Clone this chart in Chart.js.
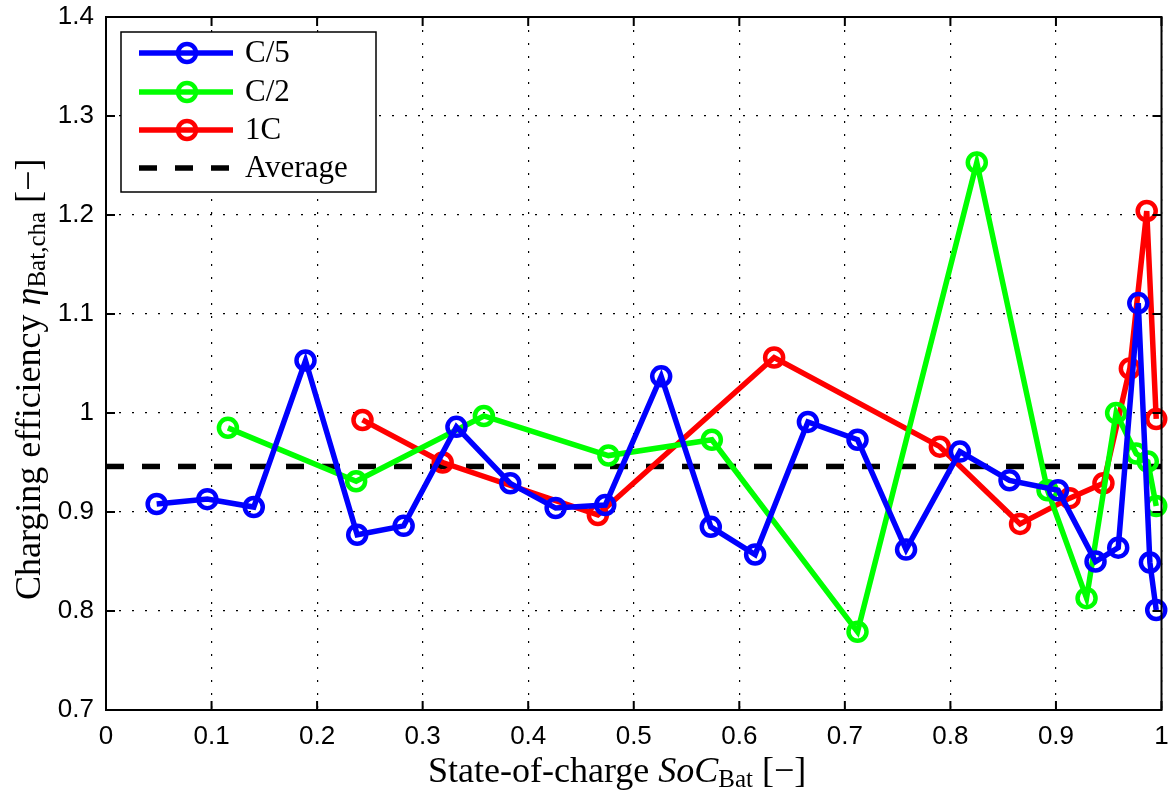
<!DOCTYPE html>
<html>
<head>
<meta charset="utf-8">
<script src="https://cdn.jsdelivr.net/npm/chart.js@4.4.0/dist/chart.umd.min.js"></script>
<style>
html, body { margin: 0; padding: 0; background: #fff; }
#wrap { width: 1175px; height: 794px; position: relative; }
</style>
</head>
<body>
<div id="wrap"><canvas id="chart"></canvas></div>
<script>
// values
const socC5 = [0.048, 0.096, 0.140, 0.189, 0.238, 0.282, 0.332, 0.383, 0.426, 0.473, 0.526, 0.573,
               0.615, 0.665, 0.712, 0.758, 0.809, 0.856, 0.902, 0.9375, 0.959, 0.978, 0.989, 0.995]
const effC5 = [0.908, 0.913, 0.905, 1.053, 0.877, 0.886, 0.986, 0.929, 0.904, 0.907, 1.037, 0.885,
               0.857, 0.991, 0.973, 0.862, 0.961, 0.932, 0.922, 0.850, 0.864, 1.111, 0.849, 0.801]

const socC2 = [0.1155, 0.237, 0.358, 0.476, 0.574, 0.712, 0.825, 0.892, 0.929, 0.957, 0.976, 0.987, 0.995]
const effC2 = [0.985, 0.931, 0.997, 0.957, 0.973, 0.779, 1.253, 0.922, 0.813, 1.000, 0.959, 0.951, 0.906]

const soc1C = [0.243, 0.319, 0.466, 0.633, 0.790, 0.866, 0.913, 0.945, 0.970, 0.986, 0.995]
const eff1C = [0.993, 0.950, 0.897, 1.056, 0.966, 0.888, 0.914, 0.929, 1.045, 1.204, 0.994]

const avgSoc = [0, 1]
const avgEff = [0.946, 0.946]

const seriesNames = ['C/5', 'C/2', '1C', 'Average']

const xTickValues = [0, 0.1, 0.2, 0.3, 0.4, 0.5, 0.6, 0.7, 0.8, 0.9, 1]
const xTickLabels = ['0', '0.1', '0.2', '0.3', '0.4', '0.5', '0.6', '0.7', '0.8', '0.9', '1']
const yTickValues = [0.7, 0.8, 0.9, 1.0, 1.1, 1.2, 1.3, 1.4]
const yTickLabels = ['0.7', '0.8', '0.9', '1', '1.1', '1.2', '1.3', '1.4']

const pts = (xs, ys) => xs.map((x, i) => ({ x: x, y: ys[i] }))

const serif = '"Liberation Serif", "Times New Roman", serif'
const sans = '"Liberation Sans", Arial, sans-serif'

function series(label, xs, ys, color) {
	return {
		label: label,
		data: pts(xs, ys),
		showLine: true,
		borderColor: color,
		borderWidth: 5.5,
		pointRadius: 9,
		pointBorderWidth: 4.5,
		pointBorderColor: color,
		pointBackgroundColor: 'rgba(0,0,0,0)',
		pointHoverRadius: 9,
		clip: false
	}
}

function drawRich(ctx, segs, x, y) {
	let cx = x
	segs.forEach(s => {
		ctx.font = s.f
		ctx.fillText(s.t, cx, y + (s.dy || 0))
		cx += ctx.measureText(s.t).width
	})
}

const decorPlugin = {
	id: 'decor',
	afterDatasetsDraw(chart) {
		const ctx = chart.ctx
		const a = chart.chartArea
		const xs = chart.scales.x, ys = chart.scales.y
		ctx.save()
		ctx.strokeStyle = '#000'
		ctx.lineWidth = 2
		ctx.setLineDash([])
		ctx.strokeRect(a.left, a.top, a.right - a.left, a.bottom - a.top)
		// inward ticks
		ctx.beginPath()
		xTickValues.forEach(v => {
			const px = xs.getPixelForValue(v)
			ctx.moveTo(px, a.bottom); ctx.lineTo(px, a.bottom - 9)
			ctx.moveTo(px, a.top); ctx.lineTo(px, a.top + 9)
		})
		yTickValues.forEach(v => {
			const py = ys.getPixelForValue(v)
			ctx.moveTo(a.left, py); ctx.lineTo(a.left + 9, py)
			ctx.moveTo(a.right, py); ctx.lineTo(a.right - 9, py)
		})
		ctx.stroke()
		ctx.restore()
	},
	afterDraw(chart) {
		const ctx = chart.ctx
		const a = chart.chartArea
		ctx.save()
		ctx.fillStyle = '#000'
		ctx.textBaseline = 'alphabetic'
		ctx.textAlign = 'left'

		// x axis title
		drawRich(ctx, [
			{ t: 'State-of-charge ', f: '36px ' + serif },
			{ t: 'SoC', f: 'italic 36px ' + serif },
			{ t: 'Bat', f: '25px ' + serif, dy: 5 },
			{ t: ' [\u2212]', f: '36px ' + serif }
		], 428, 782)

		// y axis title
		ctx.save()
		ctx.translate(40, 600)
		ctx.rotate(-Math.PI / 2)
		drawRich(ctx, [
			{ t: 'Charging efficiency ', f: '36px ' + serif },
			{ t: '\u03B7', f: 'italic 36px ' + serif },
			{ t: 'Bat,cha', f: '25px ' + serif, dy: 5 },
			{ t: ' [\u2212]', f: '36px ' + serif }
		], 0, 0)
		ctx.restore()

		// legend box
		const bx = a.left + 15, by = a.top + 15, bw = 255, bh = 160
		ctx.fillStyle = '#fff'
		ctx.fillRect(bx, by, bw, bh)
		ctx.strokeStyle = '#000'
		ctx.lineWidth = 1.5
		ctx.strokeRect(bx, by, bw, bh)
		const rowY = [21, 60, 98, 136]
		chart.data.datasets.forEach((ds, i) => {
			const y = by + rowY[i]
			ctx.strokeStyle = ds.borderColor
			ctx.lineWidth = ds.borderWidth
			ctx.setLineDash(ds.borderDash || [])
			ctx.beginPath()
			ctx.moveTo(bx + 18, y)
			ctx.lineTo(bx + 112, y)
			ctx.stroke()
			ctx.setLineDash([])
			if (ds.pointRadius > 0) {
				ctx.lineWidth = ds.pointBorderWidth
				ctx.beginPath()
				ctx.arc(bx + 66, y, ds.pointRadius, 0, Math.PI * 2)
				ctx.stroke()
			}
			ctx.fillStyle = '#000'
			ctx.font = '31px ' + serif
			ctx.textBaseline = 'middle'
			ctx.fillText(ds.label, bx + 124, y + 1)
		})
		ctx.restore()
	}
}

new Chart(document.getElementById('chart'), {
	type: 'scatter',
	data: {
		datasets: [
			series(seriesNames[0], socC5, effC5, '#0000ff'),
			series(seriesNames[1], socC2, effC2, '#00ff00'),
			series(seriesNames[2], soc1C, eff1C, '#ff0000'),
			{
				label: seriesNames[3],
				data: pts(avgSoc, avgEff),
				showLine: true,
				borderColor: '#000',
				borderWidth: 5.5,
				borderDash: [18, 18],
				pointRadius: 0,
				pointHoverRadius: 0
			}
		]
	},
	options: {
		responsive: true,
		maintainAspectRatio: false,
		animation: false,
		events: [],
		layout: { padding: { top: 17, right: 13, left: 0, bottom: 0 } },
		plugins: {
			legend: { display: false },
			tooltip: { enabled: false }
		},
		scales: {
			x: {
				type: 'linear',
				min: 0,
				max: 1,
				afterBuildTicks: s => { s.ticks = xTickValues.map(v => ({ value: v })) },
				afterFit: s => { s.height = 84; s.paddingLeft = 0; s.paddingRight = 0 },
				ticks: {
					callback: (v, i) => xTickLabels[i],
					font: { family: sans, size: 26 },
					color: '#000',
					padding: 11,
					maxRotation: 0
				},
				grid: { color: '#000', lineWidth: 1.2, drawTicks: false },
				border: { display: false, dash: [2, 11] }
			},
			y: {
				type: 'linear',
				min: 0.7,
				max: 1.4,
				afterBuildTicks: s => { s.ticks = yTickValues.map(v => ({ value: v })) },
				afterFit: s => { s.width = 106; s.paddingTop = 0; s.paddingBottom = 0 },
				ticks: {
					callback: (v, i) => yTickLabels[i],
					font: { family: sans, size: 26 },
					color: '#000',
					padding: 12
				},
				grid: { color: '#000', lineWidth: 1.2, drawTicks: false },
				border: { display: false, dash: [2, 11] }
			}
		}
	},
	plugins: [decorPlugin]
})
</script>
</body>
</html>
